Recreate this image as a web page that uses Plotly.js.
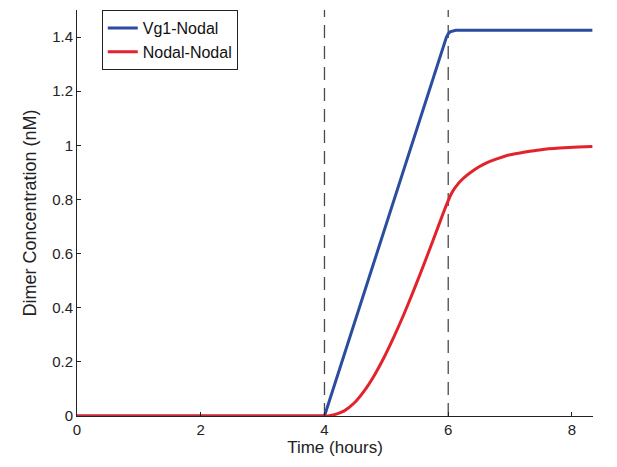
<!DOCTYPE html>
<html>
<head>
<meta charset="utf-8">
<script src="https://cdn.plot.ly/plotly-3.0.1.min.js"></script>
<style>html,body{margin:0;padding:0;background:#fff;}#chart{width:617px;height:467px;}</style>
</head>
<body>
<div id="chart"></div>
<script>
const vg1Time = [0, 4, 5.97, 6.0, 6.03, 6.07, 6.12, 7, 8.33];
const vg1Conc = [0, 0, 1.399, 1.412, 1.419, 1.423, 1.425, 1.425, 1.425];
const nodalTime = [0, 3.96, 4.0, 4.08, 4.16, 4.32, 4.48, 4.64, 4.80, 4.96, 5.12, 5.28, 5.44, 5.60, 5.76, 5.92, 6.0, 6.05, 6.10, 6.15, 6.20, 6.29, 6.40, 6.50, 6.62, 6.75, 6.89, 7.0, 7.16, 7.32, 7.5, 7.8, 8.1, 8.33];
const nodalConc = [0, 0, 0, 0.001, 0.005, 0.019, 0.048, 0.092, 0.148, 0.215, 0.291, 0.374, 0.463, 0.556, 0.652, 0.750, 0.796, 0.821, 0.840, 0.855, 0.868, 0.887, 0.906, 0.921, 0.935, 0.947, 0.958, 0.965, 0.972, 0.978, 0.984, 0.990, 0.994, 0.996];
const dashedTimes = [4, 6];
const seriesNames = ['Vg1-Nodal', 'Nodal-Nodal'];
const xTicks = [0, 2, 4, 6, 8];
const yTicks = [0, 0.2, 0.4, 0.6, 0.8, 1, 1.2, 1.4];

const font = 'Liberation Sans, Arial, Helvetica, sans-serif';

const traces = [
  {x: vg1Time, y: vg1Conc, name: seriesNames[0], mode: 'lines',
   line: {color: '#2b4c9f', width: 3, shape: 'linear'}},
  {x: nodalTime, y: nodalConc, name: seriesNames[1], mode: 'lines',
   line: {color: '#e3222b', width: 3, shape: 'spline', smoothing: 0.4}}
];

const shapes = dashedTimes.map(t => ({
  type: 'line', xref: 'x', yref: 'paper', x0: t, x1: t, y0: 0, y1: 1,
  line: {color: '#4a4a4a', width: 1.3, dash: '13px,8px'}, layer: 'below'
}));

const layout = {
  width: 617, height: 467,
  margin: {l: 77, r: 24, t: 10, b: 51},
  paper_bgcolor: '#fff', plot_bgcolor: '#fff',
  font: {family: font, size: 15, color: '#222'},
  showlegend: true,
  legend: {x: 0.048, y: 1.0, xanchor: 'left', yanchor: 'top',
           bordercolor: '#222', borderwidth: 1, bgcolor: '#fff',
           font: {family: font, size: 16, color: '#111'},
           tracegroupgap: 0},
  xaxis: {range: [0, 8.34], tickvals: xTicks, ticktext: xTicks.map(String),
          ticks: 'inside', ticklen: 4, tickcolor: '#222', showgrid: false, zeroline: false,
          showline: true, linecolor: '#222', linewidth: 1,
          tickfont: {size: 15, color: '#222'},
          title: {text: 'Time (hours)', font: {size: 17, color: '#222'}, standoff: 4}},
  yaxis: {range: [0, 1.5], tickvals: yTicks, ticktext: yTicks.map(String),
          ticks: 'inside', ticklen: 4, tickcolor: '#222', showgrid: false, zeroline: false,
          showline: true, linecolor: '#222', linewidth: 1,
          tickfont: {size: 15, color: '#222'},
          title: {text: 'Dimer Concentration (nM)', font: {size: 18, color: '#222'}, standoff: 10}},
  shapes: shapes
};

Plotly.newPlot('chart', traces, layout, {displayModeBar: false, staticPlot: true});
</script>
</body>
</html>
